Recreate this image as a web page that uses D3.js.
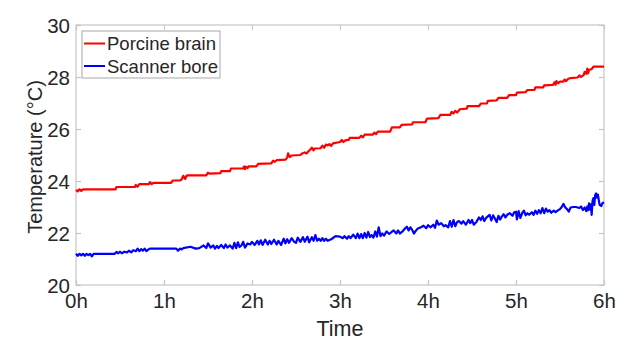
<!DOCTYPE html>
<html>
<head>
<meta charset="utf-8">
<script src="https://cdn.jsdelivr.net/npm/d3@7"></script>
<style>
  body { margin: 0; background: #fff; }
  text { font-family: "Liberation Sans", Arial, sans-serif; fill: #262626; }
</style>
</head>
<body>
<svg id="chart" width="638" height="354"></svg>
<script>
// data (hours, deg C)
var brainHours = [0, 0.02, 0.04, 0.06, 0.08, 0.45, 0.46, 0.67, 0.68, 0.70, 0.72, 0.83, 0.84, 0.86, 0.88, 1.08, 1.10, 1.18,
    1.20, 1.22, 1.24, 1.26, 1.48, 1.50, 1.52, 1.64, 1.65, 1.75, 1.76, 1.90, 1.91, 1.92, 1.93, 1.95, 1.96, 2.05, 2.07,
    2.22, 2.24, 2.26, 2.28, 2.38, 2.40, 2.41, 2.43, 2.45, 2.55, 2.57, 2.60, 2.62, 2.64, 2.66, 2.68, 2.70, 2.71, 2.78,
    2.80, 2.82, 2.84, 2.86, 2.88, 2.90, 2.92, 3.00, 3.02, 3.04, 3.06, 3.10, 3.11, 3.22, 3.24, 3.26, 3.28, 3.37, 3.39,
    3.41, 3.43, 3.57, 3.59, 3.68, 3.70, 3.82, 3.83, 3.97, 3.99, 4.12, 4.14, 4.25, 4.27, 4.29, 4.31, 4.33, 4.35, 4.36,
    4.44, 4.45, 4.58, 4.60, 4.67, 4.68, 4.78, 4.80, 4.90, 4.92, 5.00, 5.01, 5.11, 5.13, 5.21, 5.22, 5.31, 5.32, 5.42,
    5.44, 5.45, 5.46, 5.48, 5.50, 5.54, 5.55, 5.57, 5.59, 5.62, 5.70, 5.72, 5.74, 5.77, 5.78, 5.80, 5.81, 5.82, 5.83,
    5.86, 5.88, 6.00];
var brainTemps = [23.66, 23.6, 23.68, 23.62, 23.68, 23.68, 23.77, 23.77, 23.85, 23.78, 23.88, 23.88, 23.96, 23.88, 23.93, 23.93, 24.02, 24.02,
    24.06, 24.2, 24.08, 24.22, 24.22, 24.32, 24.28, 24.3, 24.38, 24.38, 24.48, 24.48, 24.56, 24.46, 24.55, 24.5, 24.56, 24.56, 24.66,
    24.68, 24.78, 24.74, 24.8, 24.82, 24.9, 25.06, 24.92, 24.98, 25.0, 25.06, 25.1, 25.06, 25.14, 25.2, 25.28, 25.18, 25.25, 25.26,
    25.36, 25.28, 25.4, 25.37, 25.42, 25.35, 25.45, 25.5, 25.58, 25.5, 25.56, 25.58, 25.66, 25.66, 25.74, 25.68, 25.78, 25.78, 25.86,
    25.8, 25.9, 25.9, 26.06, 26.06, 26.16, 26.18, 26.26, 26.26, 26.4, 26.42, 26.54, 26.54, 26.66, 26.6, 26.7, 26.64, 26.7, 26.76,
    26.78, 26.88, 26.88, 26.98, 26.98, 27.08, 27.1, 27.2, 27.2, 27.3, 27.3, 27.4, 27.42, 27.5, 27.5, 27.6, 27.6, 27.68, 27.7,
    27.8, 27.7, 27.84, 27.76, 27.82, 27.82, 27.9, 27.84, 27.92, 27.96, 27.98, 28.06, 28.0, 28.08, 28.2, 28.12, 28.32, 28.15, 28.28,
    28.3, 28.4, 28.4];

var boreHours = [0, 0.02, 0.04, 0.06, 0.08, 0.10, 0.12, 0.14, 0.16, 0.18, 0.20, 0.44, 0.46, 0.48, 0.50, 0.52, 0.55, 0.58, 0.60,
    0.63, 0.65, 0.68, 0.70, 0.72, 0.74, 0.76, 0.78, 0.80, 0.82, 0.84, 1.14, 1.16, 1.18, 1.20, 1.22, 1.30, 1.36, 1.40, 1.45,
    1.48, 1.50, 1.53, 1.56, 1.58, 1.60, 1.62, 1.65, 1.68, 1.70, 1.72, 1.75, 1.78, 1.80, 1.82, 1.84, 1.86, 1.88, 1.90, 1.92,
    1.95, 1.98, 2.00, 2.03, 2.06, 2.08, 2.10, 2.12, 2.15, 2.18, 2.20, 2.22, 2.25, 2.28, 2.30, 2.33, 2.36, 2.38, 2.40, 2.42,
    2.45, 2.48, 2.50, 2.52, 2.55, 2.58, 2.60, 2.63, 2.65, 2.68, 2.70, 2.72, 2.74, 2.76, 2.78, 2.80, 2.82, 2.84, 2.86, 2.90,
    2.95, 3.00, 3.03, 3.05, 3.08, 3.10, 3.12, 3.15, 3.18, 3.20, 3.22, 3.24, 3.26, 3.28, 3.30, 3.32, 3.34, 3.36, 3.38, 3.40,
    3.42, 3.44, 3.46, 3.48, 3.50, 3.53, 3.56, 3.58, 3.61, 3.64, 3.66, 3.68, 3.71, 3.74, 3.76, 3.78, 3.80, 3.82, 3.84, 3.86,
    3.88, 3.92, 3.95, 3.98, 4.00, 4.03, 4.06, 4.08, 4.10, 4.12, 4.15, 4.18, 4.20, 4.23, 4.25, 4.27, 4.29, 4.31, 4.33, 4.35,
    4.38, 4.40, 4.43, 4.46, 4.48, 4.50, 4.52, 4.55, 4.58, 4.60, 4.62, 4.64, 4.66, 4.68, 4.70, 4.72, 4.74, 4.76, 4.78, 4.80,
    4.82, 4.84, 4.86, 4.88, 4.90, 4.93, 4.96, 4.98, 5.00, 5.01, 5.03, 5.05, 5.07, 5.09, 5.11, 5.13, 5.15, 5.18, 5.20, 5.22,
    5.24, 5.26, 5.28, 5.30, 5.32, 5.34, 5.36, 5.38, 5.40, 5.43, 5.45, 5.48, 5.50, 5.52, 5.54, 5.56, 5.58, 5.60, 5.62, 5.65,
    5.68, 5.72, 5.74, 5.76, 5.78, 5.80, 5.81, 5.82, 5.83, 5.84, 5.85, 5.86, 5.87, 5.88, 5.89, 5.90, 5.91, 5.92, 5.93, 5.95,
    5.97, 5.98, 6.00];
var boreTemps = [21.2, 21.12, 21.2, 21.14, 21.2, 21.12, 21.2, 21.15, 21.2, 21.1, 21.2, 21.2, 21.27, 21.22, 21.28, 21.22, 21.28, 21.25, 21.32,
    21.26, 21.34, 21.3, 21.4, 21.3, 21.38, 21.32, 21.4, 21.3, 21.36, 21.4, 21.4, 21.32, 21.4, 21.37, 21.42, 21.47, 21.4, 21.42, 21.52,
    21.42, 21.6, 21.44, 21.52, 21.4, 21.5, 21.42, 21.54, 21.42, 21.56, 21.44, 21.52, 21.4, 21.62, 21.42, 21.64, 21.46, 21.52, 21.66, 21.44,
    21.6, 21.56, 21.66, 21.54, 21.7, 21.56, 21.72, 21.54, 21.74, 21.56, 21.7, 21.58, 21.74, 21.56, 21.7, 21.54, 21.78, 21.6, 21.76, 21.62,
    21.8, 21.66, 21.62, 21.82, 21.66, 21.84, 21.66, 21.86, 21.64, 21.84, 21.7, 21.92, 21.7, 21.78, 21.7, 21.8, 21.7, 21.78, 21.7, 21.76,
    21.88, 21.86, 21.8, 21.88, 21.78, 21.88, 21.8, 21.94, 21.8, 21.98, 21.8, 21.96, 21.8, 22.0, 21.82, 22.04, 21.84, 21.92, 21.82, 22.06,
    21.86, 22.22, 21.88, 21.98, 21.9, 22.06, 21.96, 22.02, 22.1, 21.98, 22.1, 21.98, 22.06, 22.18, 22.24, 22.1, 22.22, 22.12, 21.98, 22.08,
    22.16, 22.22, 22.28, 22.18, 22.3, 22.22, 22.32, 22.2, 22.48, 22.32, 22.38, 22.26, 22.3, 22.22, 22.46, 22.24, 22.5, 22.26, 22.42, 22.46,
    22.36, 22.46, 22.32, 22.5, 22.38, 22.5, 22.32, 22.42, 22.6, 22.5, 22.64, 22.46, 22.58, 22.64, 22.7, 22.48, 22.68, 22.56, 22.42, 22.66,
    22.52, 22.64, 22.72, 22.6, 22.7, 22.76, 22.66, 22.8, 22.82, 22.52, 22.84, 22.58, 22.76, 22.86, 22.68, 22.76, 22.7, 22.8, 22.7, 22.86,
    22.74, 22.88, 22.76, 22.96, 22.76, 22.94, 22.82, 22.88, 22.78, 22.86, 22.8, 22.88, 22.92, 23.0, 23.12, 22.98, 22.92, 22.82, 22.98, 23.0,
    23.0, 22.96, 23.02, 22.88, 22.98, 22.84, 23.02, 22.88, 23.14, 22.9, 23.1, 22.7, 23.24, 23.34, 23.08, 23.46, 23.52, 23.36, 23.48, 23.08,
    23.04, 23.14, 23.18];

var xTicks = [0, 1, 2, 3, 4, 5, 6];
var yTicks = [20, 22, 24, 26, 28, 30];
var seriesNames = ["Porcine brain", "Scanner bore"];
var seriesColors = ["#ff0000", "#0000ff"];

var margin = {left: 76, top: 25, right: 34, bottom: 69};
var width = 638 - margin.left - margin.right;
var height = 354 - margin.top - margin.bottom;

var svg = d3.select("#chart");
var g = svg.append("g").attr("transform", "translate(" + margin.left + "," + margin.top + ")");

var x = d3.scaleLinear().domain([0, 6]).range([0, width]);
var y = d3.scaleLinear().domain([20, 30]).range([height, 0]);

/* box with inward ticks on all four sides */
var axisColor = "#c6c6c6";
g.append("rect")
    .attr("x", 0).attr("y", 0)
    .attr("width", width).attr("height", height)
    .attr("fill", "none")
    .attr("stroke", axisColor)
    .attr("stroke-width", 1.2);

var xAxis = g.append("g")
    .attr("class", "x axis")
    .attr("transform", "translate(0," + height + ")")
    .call(d3.axisBottom(x).tickValues(xTicks).tickSize(-5).tickPadding(9)
        .tickFormat(function (d) { return d + "h"; }));
var xTop = g.append("g").call(d3.axisTop(x).tickValues(xTicks).tickSize(-5).tickFormat(""));

var yAxis = g.append("g")
    .attr("class", "y axis")
    .call(d3.axisLeft(y).tickValues(yTicks).tickSize(-5).tickPadding(6));
var yRight = g.append("g")
    .attr("transform", "translate(" + width + ",0)")
    .call(d3.axisRight(y).tickValues(yTicks).tickSize(-5).tickFormat(""));

[xAxis, xTop, yAxis, yRight].forEach(function (a) {
    a.select(".domain").remove();
    a.selectAll(".tick line").attr("stroke", axisColor).attr("stroke-width", 1.2);
    a.selectAll(".tick text")
        .style("font-family", "'Liberation Sans', Arial, sans-serif")
        .style("font-size", "20.5px")
        .attr("fill", "#262626");
});
yAxis.selectAll(".tick text").attr("dy", "0.36em");
xAxis.selectAll(".tick text").attr("dy", "0.7em");

/* lines */
var line = d3.line()
    .x(function (d) { return x(d[0]); })
    .y(function (d) { return y(d[1]); });

var brain = brainHours.map(function (h, i) { return [h, brainTemps[i]]; });
var bore = boreHours.map(function (h, i) { return [h, boreTemps[i]]; });

[brain, bore].forEach(function (s, i) {
    g.append("path")
        .attr("class", "line")
        .attr("d", line(s))
        .attr("fill", "none")
        .attr("stroke", seriesColors[i])
        .attr("stroke-width", 2.2)
        .attr("stroke-linejoin", "round");
});

/* axis titles */
svg.append("text")
    .attr("x", margin.left + width / 2)
    .attr("y", 336)
    .attr("text-anchor", "middle")
    .style("font-size", "21.5px")
    .text("Time");

svg.append("text")
    .attr("transform", "translate(42,157) rotate(-90)")
    .attr("text-anchor", "middle")
    .style("font-size", "20px")
    .text("Temperature (°C)");

/* legend */
var legend = g.append("g").attr("transform", "translate(6,6)");
legend.append("rect")
    .attr("width", 138).attr("height", 47)
    .attr("fill", "#fff")
    .attr("stroke", "#a8a8a8")
    .attr("stroke-width", 1);

seriesNames.forEach(function (name, i) {
    var row = legend.append("g").attr("transform", "translate(0," + (12.5 + i * 22.5) + ")");
    row.append("line")
        .attr("x1", 2).attr("x2", 23)
        .attr("y1", 0).attr("y2", 0)
        .attr("stroke", seriesColors[i])
        .attr("stroke-width", 2);
    row.append("text")
        .attr("x", 25).attr("y", 6.5)
        .style("font-size", "18.5px")
        .text(name);
});
</script>
</body>
</html>
